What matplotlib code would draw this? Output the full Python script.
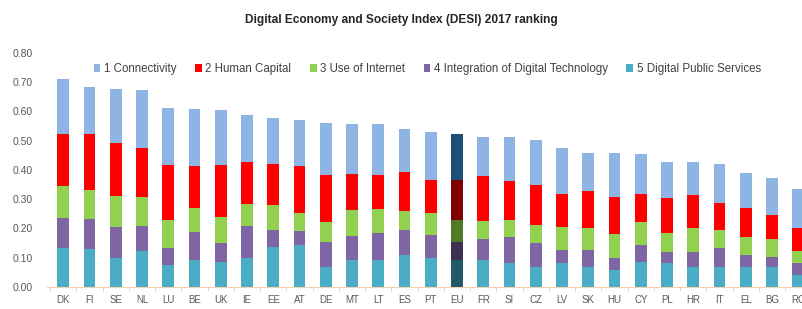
import numpy as np
import matplotlib
matplotlib.use('Agg')
import matplotlib.pyplot as plt

plt.rcParams['font.family'] = ['Liberation Sans', 'DejaVu Sans']

countries = ['DK', 'FI', 'SE', 'NL', 'LU', 'BE', 'UK', 'IE', 'EE', 'AT', 'DE', 'MT', 'LT', 'ES',
             'PT', 'EU', 'FR', 'SI', 'CZ', 'LV', 'SK', 'HU', 'CY', 'PL', 'HR', 'IT', 'EL', 'BG', 'RO']

connectivity = [0.187, 0.160, 0.186, 0.196, 0.194, 0.193, 0.188, 0.162, 0.156, 0.157, 0.177, 0.170,
                0.173, 0.146, 0.165, 0.159, 0.133, 0.149, 0.154, 0.159, 0.131, 0.153, 0.137, 0.123,
                0.112, 0.133, 0.120, 0.126, 0.134]
human_capital = [0.178, 0.191, 0.182, 0.168, 0.188, 0.146, 0.177, 0.145, 0.142, 0.160, 0.160, 0.123,
                 0.117, 0.133, 0.112, 0.135, 0.154, 0.134, 0.137, 0.112, 0.128, 0.126, 0.095, 0.119,
                 0.113, 0.093, 0.097, 0.080, 0.077]
use_internet = [0.110, 0.098, 0.105, 0.101, 0.097, 0.080, 0.091, 0.074, 0.085, 0.063, 0.068, 0.089,
                0.082, 0.066, 0.076, 0.076, 0.061, 0.057, 0.063, 0.080, 0.075, 0.083, 0.079, 0.063,
                0.080, 0.063, 0.063, 0.062, 0.043]
integration = [0.103, 0.105, 0.108, 0.084, 0.057, 0.097, 0.063, 0.111, 0.059, 0.047, 0.088, 0.082,
               0.092, 0.086, 0.080, 0.063, 0.074, 0.091, 0.080, 0.045, 0.059, 0.038, 0.058, 0.040,
               0.054, 0.063, 0.042, 0.037, 0.040]
public_services = [0.131, 0.128, 0.097, 0.123, 0.074, 0.091, 0.085, 0.097, 0.135, 0.143, 0.066, 0.091,
                   0.091, 0.108, 0.097, 0.091, 0.091, 0.080, 0.068, 0.080, 0.066, 0.059, 0.085, 0.080,
                   0.066, 0.068, 0.066, 0.066, 0.040]

labels = ['1 Connectivity', '2 Human Capital', '3 Use of Internet',
          '4 Integration of Digital Technology', '5 Digital Public Services']
colors = ['#8EB4E3', '#FF0000', '#92D050', '#7F65A3', '#4BACC6']
eu_colors = ['#1F4E79', '#7F0000', '#4F7A28', '#3F3151', '#215968']

fig = plt.figure(figsize=(8.03, 3.09), dpi=100)
ax = fig.add_axes([0.0585, 0.072, 0.9415, 0.757])

x = np.arange(len(countries))
series = [public_services, integration, use_internet, human_capital, connectivity]
sc = colors[::-1]
ec = eu_colors[::-1]
bottom = np.zeros(len(countries))
handles = [None] * 5
eu = countries.index('EU')
for i, vals in enumerate(series):
    vals = np.array(vals)
    cols = [sc[i]] * len(countries)
    cols[eu] = ec[i]
    b = ax.bar(x, vals, 0.45, bottom=bottom, color=cols)
    handles[4 - i] = b
    bottom += vals

ax.set_yticks(np.arange(0, 0.81, 0.1))
ax.set_yticklabels(['%.2f' % v for v in np.arange(0, 0.81, 0.1)])
ax.set_xticks(x)
ax.set_xticklabels(countries)
ax.set_xticks(np.arange(-0.5, 28, 1), minor=True)
# limits after ticks, set_xticks expands the view
ax.set_xlim(-0.62, 28.18)
ax.set_ylim(0, 0.8)
ax.tick_params(axis='x', which='major', length=0, labelsize=7, colors='#595959', pad=6)
ax.tick_params(axis='x', which='minor', length=3, color='#F2C9A0')
ax.tick_params(axis='y', length=0, labelsize=7.5, colors='#595959', pad=10)
for s in ['top', 'right', 'left']:
    ax.spines[s].set_visible(False)
ax.spines['bottom'].set_color('#F2D0B0')

fig.text(0.5, 0.935, 'Digital Economy and Society Index (DESI) 2017 ranking',
         ha='center', va='center', fontsize=8.6, fontweight='bold', color='#262626')

leg = fig.legend([h.patches[0] for h in handles], labels, loc='center',
                 bbox_to_anchor=(0.532, 0.777), ncol=5, frameon=False, fontsize=8.3,
                 handlelength=0.6, handleheight=0.6, handletextpad=0.3, columnspacing=1.6)
for t in leg.get_texts():
    t.set_color('#404040')
for p, c in zip(leg.get_patches(), colors):
    p.set_facecolor(c)

fig.savefig('out.png', dpi=100)
